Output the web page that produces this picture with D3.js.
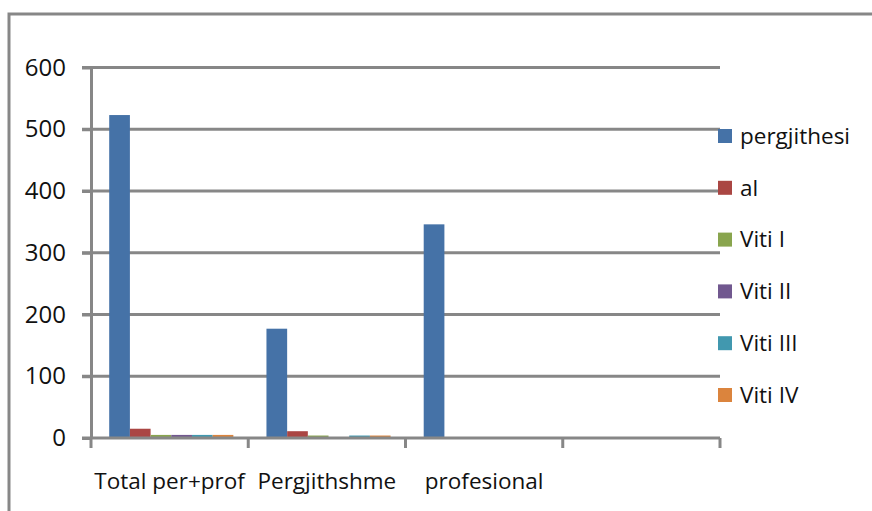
<!DOCTYPE html>
<html>
<head>
<meta charset="utf-8">
<script src="https://cdn.jsdelivr.net/npm/d3@7/dist/d3.min.js"></script>
<style>
  html, body { margin: 0; padding: 0; background: #fff; }
  svg { display: block; }
  text { font-family: "Open Sans", "Noto Sans", sans-serif; fill: #111; }
</style>
</head>
<body>
<svg id="chart" width="872" height="511"></svg>
<script>
// Categories along the x axis (the last slot is left empty)
const categories = ["Total per+prof", "Pergjithshme", "profesional", ""];

// Series names, in legend order
const seriesNames = ["pergjithesi", "al", "Viti I", "Viti II", "Viti III", "Viti IV"];

// One array per series, one value per category (null = no data)
const pergjithesi = [523, 177, 346, null];
const al          = [15, 11, 0, null];
const vitiI       = [5, 4, 0, null];
const vitiII      = [5, 0, 0, null];
const vitiIII     = [5, 4, 0, null];
const vitiIV      = [5, 4, 0, null];

const yTicks = [0, 100, 200, 300, 400, 500, 600];

const seriesValues = [pergjithesi, al, vitiI, vitiII, vitiIII, vitiIV];
const colors = ["#4572A7", "#AA4643", "#89A54E", "#71588F", "#4198AF", "#DB843D"];

const svg = d3.select("#chart");
const gridColor = "#878787";
const fontSize = 22.5;

// Outer chart frame
svg.append("rect")
  .attr("x", 9).attr("y", 14)
  .attr("width", 900).attr("height", 540)
  .attr("fill", "none").attr("stroke", gridColor).attr("stroke-width", 3);

const plot = { left: 91, right: 720, top: 67.5, bottom: 438 };

const y = d3.scaleLinear().domain([0, 600]).range([plot.bottom, plot.top]);
const x0 = d3.scaleBand().domain(categories.map((c, i) => i)).range([plot.left, plot.right]);
const x1 = d3.scaleBand().domain(seriesNames).range([0, x0.bandwidth()])
  .paddingInner(0).paddingOuter(0.8).align(0.55);

// Horizontal gridlines
svg.append("g")
  .selectAll("line")
  .data(yTicks.filter(t => t > 0))
  .join("line")
  .attr("x1", plot.left - 9).attr("x2", plot.right)
  .attr("y1", d => y(d)).attr("y2", d => y(d))
  .attr("stroke", gridColor).attr("stroke-width", 3);

// Bars
const groups = svg.append("g")
  .selectAll("g")
  .data(categories.map((c, i) => i))
  .join("g")
  .attr("transform", i => `translate(${x0(i)},0)`);

groups.selectAll("rect")
  .data(i => seriesNames.map((s, k) => ({ s, k, v: seriesValues[k][i] })).filter(d => d.v !== null && d.v > 0))
  .join("rect")
  .attr("x", d => x1(d.s))
  .attr("width", x1.bandwidth())
  .attr("y", d => y(d.v))
  .attr("height", d => y(0) - y(d.v))
  .attr("fill", d => colors[d.k]);

// Y axis
const yAxis = svg.append("g")
  .attr("transform", `translate(${plot.left},0)`)
  .call(d3.axisLeft(y).tickValues(yTicks).tickSize(9).tickSizeOuter(0).tickPadding(16));
yAxis.select(".domain").attr("stroke", gridColor).attr("stroke-width", 3);
yAxis.selectAll(".tick line").attr("stroke", gridColor).attr("stroke-width", 3);
yAxis.selectAll(".tick text")
  .attr("font-size", 24).attr("font-family", "'Open Sans', sans-serif").attr("fill", "#111");

// X axis with ticks at category boundaries
const xAxis = svg.append("g")
  .attr("transform", `translate(0,${plot.bottom})`);
xAxis.append("line")
  .attr("x1", plot.left - 9).attr("x2", plot.right)
  .attr("stroke", gridColor).attr("stroke-width", 3);
const bounds = categories.map((c, i) => x0(i)).concat([x0(categories.length - 1) + x0.bandwidth()]);
xAxis.selectAll("line.tk")
  .data(bounds)
  .join("line").attr("class", "tk")
  .attr("x1", d => d).attr("x2", d => d)
  .attr("y1", 0).attr("y2", 10)
  .attr("stroke", gridColor).attr("stroke-width", 3);
xAxis.selectAll("text")
  .data(categories.map((c, i) => i))
  .join("text")
  .attr("x", i => x0(i) + x0.bandwidth() / 2)
  .attr("y", 51)
  .attr("text-anchor", "middle")
  .attr("font-size", fontSize)
  .text(i => categories[i]);

// Legend
const legend = svg.append("g");
const leg = legend.selectAll("g")
  .data(seriesNames)
  .join("g")
  .attr("transform", (d, i) => `translate(718,${136 + i * 51.8})`);
leg.append("rect")
  .attr("x", 0).attr("y", -7).attr("width", 14).attr("height", 14)
  .attr("fill", (d, i) => colors[i]);
leg.append("text")
  .attr("x", 22).attr("y", 0).attr("dy", "0.35em")
  .attr("font-size", fontSize)
  .text(d => d);
</script>
</body>
</html>
